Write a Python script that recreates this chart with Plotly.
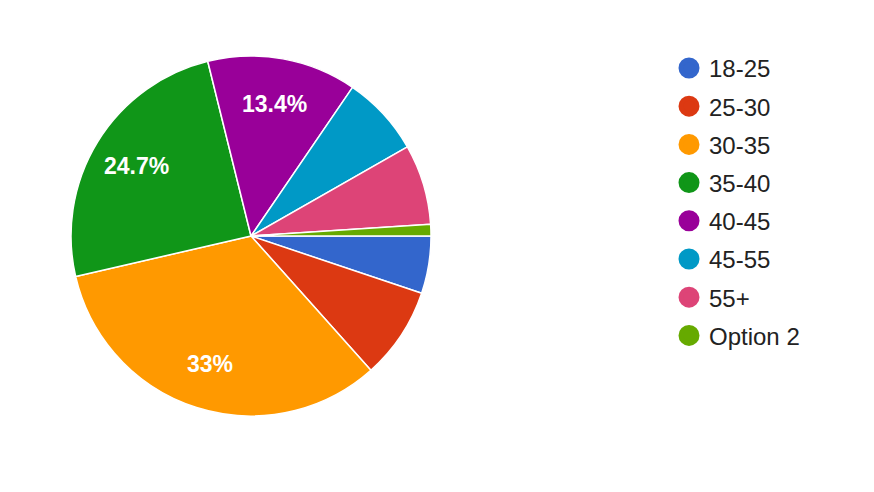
import math

import plotly.graph_objects as go

# Survey responses per age group (97 responses in total)
labels = ["18-25", "25-30", "30-35", "35-40", "40-45", "45-55", "55+", "Option 2"]
counts = [5, 8, 32, 24, 13, 7, 7, 1]
slice_text = ["", "", "33%", "24.7%", "13.4%", "", "", ""]
colors = ["#3366cc", "#dc3912", "#ff9900", "#109618",
          "#990099", "#0099c6", "#dd4477", "#66aa00"]

W, H = 874, 492
PIE_X = [0.0721, 0.4840]
PIE_Y = [0.1707, 0.9024]
LABEL_R = 0.745  # label distance from centre, as a share of the radius

fig = go.Figure()

fig.add_trace(
    go.Pie(
        labels=labels,
        values=counts,
        textinfo="none",
        sort=False,
        direction="clockwise",
        rotation=90,
        marker=dict(colors=colors, line=dict(color="#ffffff", width=1.5)),
        domain=dict(x=PIE_X, y=PIE_Y),
        showlegend=False,
        hoverinfo="label+value+percent",
    )
)

# slice labels placed like the original: at the middle angle of each slice
cx = (PIE_X[0] + PIE_X[1]) / 2 * W
cy = (1 - (PIE_Y[0] + PIE_Y[1]) / 2) * H
radius = (PIE_X[1] - PIE_X[0]) * W / 2
total = sum(counts)
start = 0.0
for n, txt in zip(counts, slice_text):
    mid = math.radians((start + n / 2) / total * 360)
    start += n
    if not txt:
        continue
    px = cx + LABEL_R * radius * math.cos(mid)
    py = cy + LABEL_R * radius * math.sin(mid)
    fig.add_annotation(
        x=px / W, y=1 - py / H, xref="paper", yref="paper",
        xanchor="center", yanchor="middle",
        text=txt, showarrow=False,
        font=dict(family="Liberation Sans", size=23, color="#ffffff", weight="bold"),
    )

# legend entries drawn as round markers (pie legends only use squares)
for name, col in zip(labels, colors):
    fig.add_trace(
        go.Scatter(
            x=[None], y=[None],
            mode="markers",
            name=name,
            legendgroup=name,
            marker=dict(size=16, color=col, symbol="circle", line=dict(color=col, width=5)),
        )
    )

fig.update_layout(
    width=W,
    height=H,
    margin=dict(l=0, r=0, t=0, b=0),
    paper_bgcolor="#ffffff",
    plot_bgcolor="#ffffff",
    font=dict(family="Liberation Sans", color="#222222"),
    xaxis=dict(visible=False),
    yaxis=dict(visible=False),
    legend=dict(
        x=0.7563, y=0.923,
        xanchor="left", yanchor="top",
        font=dict(size=24, color="#222222"),
        tracegroupgap=4,
        itemsizing="trace",
    ),
)

fig.write_html("out.html")
